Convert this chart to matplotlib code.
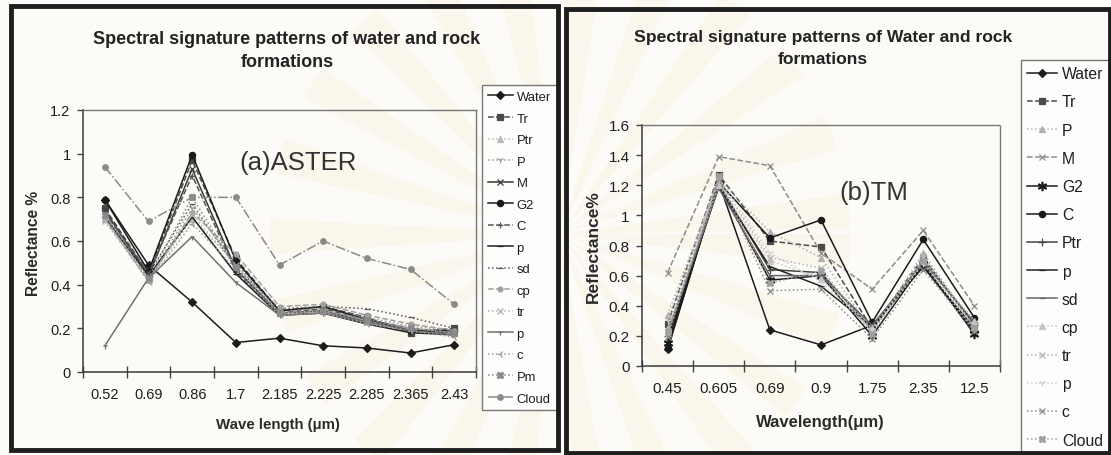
import matplotlib
matplotlib.use("Agg")
import matplotlib.pyplot as plt
from matplotlib.patches import Rectangle, Wedge
from matplotlib.ticker import FixedLocator, NullFormatter

plt.rcParams['font.family'] = ['Liberation Sans', 'DejaVu Sans']

# ---- ASTER bands ----
aster_bands = ['0.52', '0.69', '0.86', '1.7', '2.185', '2.225', '2.285', '2.365', '2.43']
aster_names = ['Water', 'Tr', 'Ptr', 'P', 'M', 'G2', 'C', 'p', 'sd', 'cp', 'tr', 'p', 'c', 'Pm', 'Cloud']
aster_water = [0.79, 0.49, 0.32, 0.135, 0.155, 0.12, 0.11, 0.087, 0.125]
aster_tr    = [0.75, 0.45, 0.97, 0.52, 0.28, 0.30, 0.25, 0.18, 0.20]
aster_ptr   = [0.70, 0.42, 0.70, 0.50, 0.27, 0.28, 0.24, 0.20, 0.18]
aster_P     = [0.72, 0.43, 0.75, 0.50, 0.28, 0.29, 0.25, 0.21, 0.19]
aster_M     = [0.74, 0.44, 0.93, 0.47, 0.27, 0.28, 0.23, 0.19, 0.18]
aster_G2    = [0.79, 0.46, 0.995, 0.51, 0.28, 0.30, 0.24, 0.19, 0.19]
aster_C     = [0.73, 0.45, 0.90, 0.46, 0.27, 0.29, 0.24, 0.20, 0.18]
aster_p     = [0.71, 0.44, 0.71, 0.45, 0.26, 0.27, 0.22, 0.18, 0.17]
aster_sd    = [0.73, 0.45, 0.77, 0.48, 0.29, 0.30, 0.29, 0.25, 0.20]
aster_cp    = [0.70, 0.42, 0.73, 0.54, 0.30, 0.31, 0.26, 0.22, 0.19]
aster_tr2   = [0.69, 0.42, 0.72, 0.49, 0.27, 0.28, 0.23, 0.20, 0.18]
aster_p2    = [0.12, 0.43, 0.62, 0.41, 0.26, 0.27, 0.23, 0.19, 0.17]
aster_c     = [0.71, 0.41, 0.68, 0.47, 0.26, 0.27, 0.22, 0.19, 0.16]
aster_Pm    = [0.72, 0.43, 0.80, 0.48, 0.27, 0.28, 0.24, 0.20, 0.18]
aster_cloud = [0.94, 0.69, 0.80, 0.80, 0.49, 0.60, 0.52, 0.47, 0.31]
aster_series = [aster_water, aster_tr, aster_ptr, aster_P, aster_M, aster_G2, aster_C,
                aster_p, aster_sd, aster_cp, aster_tr2, aster_p2, aster_c, aster_Pm, aster_cloud]
aster_yticks = [0, 0.2, 0.4, 0.6, 0.8, 1.0, 1.2]
aster_ylabels = ['0', '0.2', '0.4', '0.6', '0.8', '1', '1.2']

# ---- TM bands ----
tm_bands = ['0.45', '0.605', '0.69', '0.9', '1.75', '2.35', '12.5']
tm_names = ['Water', 'Tr', 'P', 'M', 'G2', 'C', 'Ptr', 'p', 'sd', 'cp', 'tr', 'p', 'c', 'Cloud']
tm_water = [0.11, 1.22, 0.24, 0.14, 0.27, 0.66, 0.23]
tm_tr    = [0.28, 1.27, 0.83, 0.79, 0.25, 0.72, 0.27]
tm_P     = [0.34, 1.24, 0.89, 0.72, 0.23, 0.75, 0.26]
tm_M     = [0.62, 1.39, 1.33, 0.75, 0.51, 0.90, 0.40]
tm_G2    = [0.15, 1.20, 0.57, 0.60, 0.20, 0.68, 0.21]
tm_C     = [0.12, 1.22, 0.85, 0.97, 0.29, 0.84, 0.32]
tm_ptr   = [0.20, 1.21, 0.64, 0.62, 0.24, 0.70, 0.28]
tm_p     = [0.18, 1.19, 0.66, 0.53, 0.26, 0.66, 0.25]
tm_sd    = [0.22, 1.18, 0.60, 0.60, 0.27, 0.69, 0.29]
tm_cp    = [0.25, 1.20, 0.70, 0.58, 0.25, 0.71, 0.30]
tm_tr2   = [0.21, 1.23, 0.72, 0.65, 0.22, 0.73, 0.26]
tm_p2    = [0.30, 1.25, 0.75, 0.56, 0.24, 0.68, 0.24]
tm_c     = [0.19, 1.24, 0.50, 0.51, 0.18, 0.64, 0.23]
tm_cloud = [0.23, 1.26, 0.55, 0.63, 0.21, 0.70, 0.25]
tm_series = [tm_water, tm_tr, tm_P, tm_M, tm_G2, tm_C, tm_ptr, tm_p, tm_sd, tm_cp,
             tm_tr2, tm_p2, tm_c, tm_cloud]
tm_yticks = [0, 0.2, 0.4, 0.6, 0.8, 1.0, 1.2, 1.4, 1.6]
tm_ylabels = ['0', '0.2', '0.4', '0.6', '0.8', '1', '1.2', '1.4', '1.6']

# line styles (colour, linestyle, marker, markersize), keyed by legend name
STYLE = {
    'Water': ('#1c1c1c', '-', 'D', 4),
    'Tr':    ('#4a4a4a', '--', 's', 4),
    'Ptr':   ('#b8b8b8', ':', '^', 4),
    'P':     ('#9a9a9a', ':', '1', 5),
    'M':     ('#3a3a3a', '-', 'x', 4),
    'G2':    ('#1a1a1a', '-', 'o', 4.5),
    'C':     ('#555555', '--', '+', 5),
    'p':     ('#222222', '-', '_', 5),
    'sd':    ('#5a5a5a', ':', '_', 5),
    'cp':    ('#a0a0a0', '--', 'o', 3.5),
    'tr':    ('#b0b0b0', ':', 'x', 4),
    'c':     ('#9a9a9a', ':', '3', 5),
    'Pm':    ('#8a8a8a', ':', 'X', 4.5),
    'Cloud': ('#8a8a8a', '-.', 'o', 4),
}
TM_STYLE = dict(STYLE)
TM_STYLE.update({
    'P':     ('#b0b0b0', ':', '^', 4),
    'M':     ('#8c8c8c', '--', 'x', 5),
    'G2':    ('#1a1a1a', '-', '$*$', 6),
    'C':     ('#1a1a1a', '-', 'o', 4.5),
    'Ptr':   ('#444444', '-', '+', 6),
    'sd':    ('#666666', '-', '_', 5),
    'cp':    ('#c4c4c4', ':', '^', 4),
    'tr':    ('#b4b4b4', ':', 'x', 4),
    'c':     ('#8c8c8c', ':', 'x', 5),
    'Cloud': ('#a0a0a0', ':', 'X', 5),
})

W, H = 1111, 456
BG = '#fcfbf7'
INK = '#1e1e1e'


def box(x0, y0, x1, y1):
    return [x0 / W, 1 - y1 / H, (x1 - x0) / W, (y1 - y0) / H]


def draw_panel(ax, bands, names, series, styles, yticks, ylabels, ymax, dup_style, tick_fs):
    seen = set()
    for name, vals in zip(names, series):
        if name in seen and name in dup_style:
            col, ls, mk, ms = dup_style[name]
        else:
            col, ls, mk, ms = styles[name]
        seen.add(name)
        ax.plot(range(len(bands)), vals, color=col, linestyle=ls, linewidth=1.1,
                marker=mk, markersize=ms, markerfacecolor=col, markeredgecolor=col,
                markeredgewidth=0.9, label=name)
    n = len(bands)
    ax.set_xlim(-0.5, n - 0.5)
    ax.set_ylim(0, ymax)
    ax.set_facecolor('none')
    ax.set_xticks(range(n))
    ax.set_xticklabels(bands, fontsize=tick_fs, color=INK)
    ax.tick_params(axis='x', which='major', length=0, pad=11)
    ax.xaxis.set_minor_locator(FixedLocator([i - 0.5 for i in range(n + 1)]))
    ax.xaxis.set_minor_formatter(NullFormatter())
    ax.tick_params(axis='x', which='minor', direction='inout', length=8, width=1, color='#444444')
    ax.set_yticks(yticks)
    ax.set_yticklabels(ylabels, fontsize=tick_fs, color=INK)
    ax.tick_params(axis='y', direction='out', length=4, width=1, color='#444444', pad=5)
    for side in ('left', 'bottom'):
        ax.spines[side].set_color('#3a3a3a')
        ax.spines[side].set_linewidth(1.1)
    for side in ('top', 'right'):
        ax.spines[side].set_color('#777777')
        ax.spines[side].set_linestyle((0, (1, 1)))
        ax.spines[side].set_linewidth(1.0)


fig = plt.figure(figsize=(W / 100, H / 100), dpi=100, facecolor=BG)

# faint sunburst watermark on the paper
bg = fig.add_axes([0, 0, 1, 1], zorder=-5)
bg.set_xlim(0, W)
bg.set_ylim(H, 0)
bg.axis('off')
for ang in range(0, 360, 16):
    bg.add_patch(Wedge((560, 235), 290, ang, ang + 7, facecolor='#f3e7c6', edgecolor='none',
                       alpha=0.22))

# panel frames
fig.patches.append(Rectangle((11 / W, 1 - 451 / H), (558 - 11) / W, (451 - 7) / H,
                             transform=fig.transFigure, fill=False, edgecolor=INK,
                             linewidth=3.5))
fig.patches.append(Rectangle((566 / W, 1 - 454 / H), (1110 - 566) / W, (454 - 10) / H,
                             transform=fig.transFigure, fill=False, edgecolor=INK,
                             linewidth=3.5))

# (a) ASTER
ax1 = fig.add_axes(box(83, 111, 476, 373))
draw_panel(ax1, aster_bands, aster_names, aster_series, STYLE, aster_yticks, aster_ylabels, 1.2,
           {'p': ('#707070', '-', '1', 4), 'c': ('#a8a8a8', ':', '3', 5)}, 10.5)
ax1.set_xlabel('Wave length (\u03bcm)', fontsize=10.8, fontweight='bold', color='#2a2a2a')
ax1.xaxis.set_label_coords((278 - 83) / 393, (373 - 425) / 262)
ax1.xaxis.label.set_va('center')
ax1.set_ylabel('Reflectance %', fontsize=11.2, fontweight='bold', color='#2a2a2a')
ax1.yaxis.set_label_coords((34 - 83) / 393, (373 - 243) / 262)
ax1.yaxis.label.set_va('center')
ax1.text((298 - 83) / 393, (373 - 163) / 262, '(a)ASTER', transform=ax1.transAxes,
         fontsize=18.5, color='#333333', ha='center', va='center')
fig.text(287 / W, 1 - 51 / H, 'Spectral signature patterns of water and rock\nformations',
         ha='center', va='center', fontsize=13, fontweight='bold', color='#222222',
         linespacing=1.4)
ax1.legend(loc='upper left', bbox_to_anchor=(482 / W, 1 - 86 / H), bbox_transform=fig.transFigure,
           fontsize=9.4, frameon=True, fancybox=False, edgecolor='#777777', facecolor='#fdfdfb',
           framealpha=1, borderaxespad=0, borderpad=0.45, labelspacing=0.72,
           handlelength=1.9, handletextpad=0.3, labelcolor=INK)

# (b) TM
ax2 = fig.add_axes(box(642, 126, 1000, 367))
draw_panel(ax2, tm_bands, tm_names, tm_series, TM_STYLE, tm_yticks, tm_ylabels, 1.6,
           {'p': ('#d0d0d0', ':', '1', 5)}, 11)
ax2.set_xlabel('Wavelength(\u03bcm)', fontsize=12, fontweight='bold', color='#2a2a2a')
ax2.xaxis.set_label_coords((820 - 642) / 358, (367 - 423) / 241)
ax2.xaxis.label.set_va('center')
ax2.set_ylabel('Reflectance%', fontsize=12.5, fontweight='bold', color='#2a2a2a')
ax2.yaxis.set_label_coords((593 - 642) / 358, (367 - 247) / 241)
ax2.yaxis.label.set_va('center')
ax2.text((874 - 642) / 358, (367 - 193) / 241, '(b)TM', transform=ax2.transAxes,
         fontsize=18.5, color='#333333', ha='center', va='center')
fig.text(823 / W, 1 - 48.5 / H, 'Spectral signature patterns of Water and rock\nformations',
         ha='center', va='center', fontsize=12.6, fontweight='bold', color='#222222',
         linespacing=1.6)
ax2.legend(loc='upper left', bbox_to_anchor=(1021 / W, 1 - 61 / H), bbox_transform=fig.transFigure,
           fontsize=11.3, frameon=True, fancybox=False, edgecolor='#777777', facecolor='#fdfdfb',
           framealpha=1, borderaxespad=0, borderpad=0.4, labelspacing=0.84,
           handlelength=1.9, handletextpad=0.3, labelcolor=INK)

fig.savefig('out.png', dpi=100, facecolor=BG)
